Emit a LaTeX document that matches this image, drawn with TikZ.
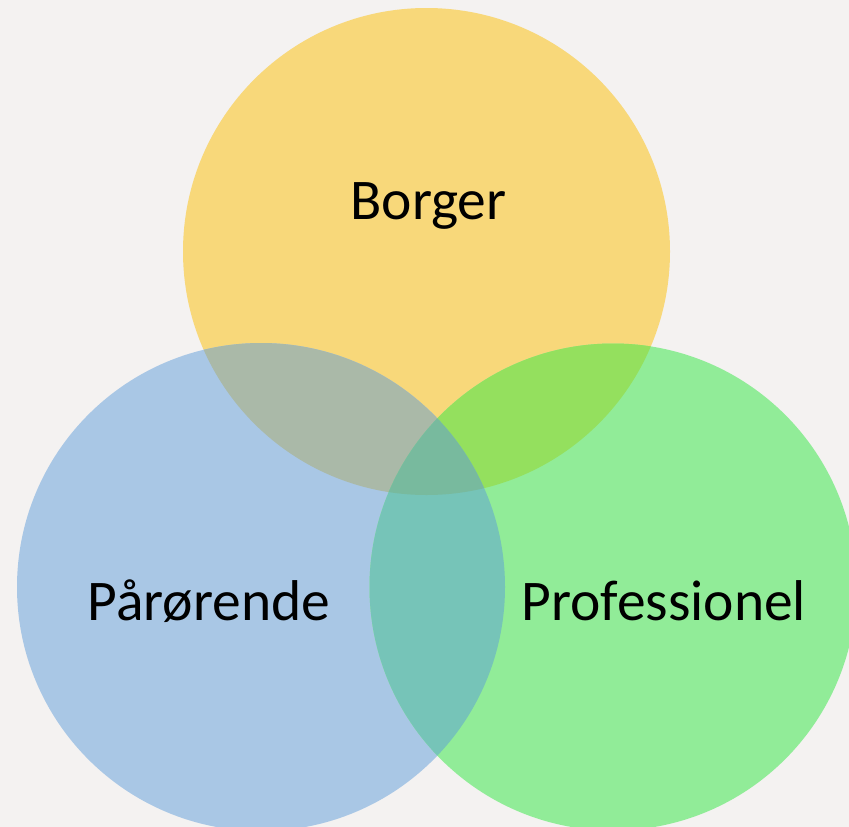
\documentclass[tikz,border=0pt]{standalone}
\usepackage{fontspec}
\setmainfont{Carlito}
\definecolor{bgc}{HTML}{F4F2F1}
\definecolor{cY}{HTML}{F8D87A}
\definecolor{cB}{HTML}{A9C7E5}
\definecolor{cG}{HTML}{91EC98}
\definecolor{cYB}{HTML}{AAB9A8}
\definecolor{cYG}{HTML}{94E05E}
\definecolor{cBG}{HTML}{76C4B8}
\definecolor{cYBG}{HTML}{78BA9E}
\tikzset{lbl/.style={anchor=base,font=\fontsize{57.5}{60}\selectfont,text=black,inner sep=0pt}}
\begin{document}
\begin{tikzpicture}[x=1pt,y=-1pt]
\fill[bgc] (0,0) rectangle (849,827);
\useasboundingbox (0,0) rectangle (849,827);
\def\cy{(426.5,251.5) circle[radius=243.5]}
\def\cb{(261,587) circle[radius=244]}
\def\cg{(613,587) circle[radius=243.5]}
\begin{scope}
\clip (0,0) rectangle (849,827);
\fill[cY] \cy;
\fill[cB] \cb;
\fill[cG] \cg;
\begin{scope}\clip \cy; \fill[cYB] \cb; \fill[cYG] \cg; \end{scope}
\begin{scope}\clip \cb; \fill[cBG] \cg; \end{scope}
\begin{scope}\clip \cy; \clip \cb; \fill[cYBG] \cg; \end{scope}
\end{scope}
\node[lbl] (borger) at (428.5,219.5) {Borger};
\node[lbl] (paarorende) at (209,620.5) {Pårørende};
\node[lbl] (prof) at (664,620.5) {Professionel};
\end{tikzpicture}
\end{document}
